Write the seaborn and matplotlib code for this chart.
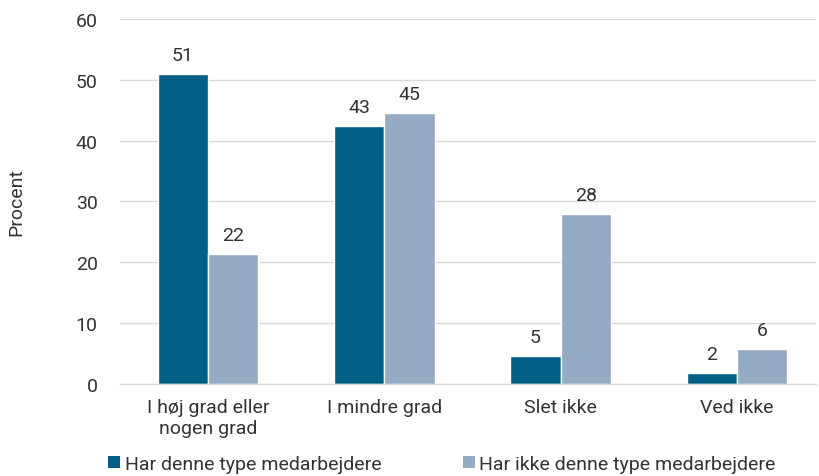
import matplotlib
matplotlib.use("Agg")

import matplotlib.pyplot as plt
import pandas as pd
import seaborn as sns
from matplotlib.patches import Patch

categories = ["I høj grad eller\nnogen grad", "I mindre grad", "Slet ikke", "Ved ikke"]
series_names = ["Har denne type medarbejdere", "Har ikke denne type medarbejdere"]
har_values = [51.0, 42.4, 4.6, 1.8]
har_ikke_values = [21.4, 44.6, 28.0, 5.8]
har_labels = ["51", "43", "5", "2"]
har_ikke_labels = ["22", "45", "28", "6"]
colors = ["#005e87", "#95aac3"]

df = pd.DataFrame({
    "kategori": categories * 2,
    "gruppe": [series_names[0]] * 4 + [series_names[1]] * 4,
    "procent": har_values + har_ikke_values,
})

sns.set_theme(style="white")
plt.rcParams["font.family"] = ["Roboto", "DejaVu Sans"]
fs = 14

fig = plt.figure(figsize=(8.19, 4.77), dpi=100)
ax = fig.add_axes([0.1465, 0.193, 0.85, 0.765])

sns.barplot(data=df, x="kategori", y="procent", hue="gruppe", palette=colors,
            width=0.57, saturation=1, gap=0, ax=ax, legend=False)

for container, labels in zip(ax.containers, [har_labels, har_ikke_labels]):
    ax.bar_label(container, labels=labels, padding=7, fontsize=fs, color="#333333")

ax.set_ylim(0, 60)
ax.set_xlim(-0.5, 3.45)
ax.set_yticks(range(0, 61, 10))
ax.yaxis.grid(True, color="#d9d9d9", linewidth=1)
ax.set_axisbelow(True)
for s in ["left", "right", "top"]:
    ax.spines[s].set_visible(False)
ax.spines["bottom"].set_color("#d9d9d9")
ax.spines["bottom"].set_linewidth(1)
ax.tick_params(axis="both", length=0, labelsize=fs, labelcolor="#333333")
ax.tick_params(axis="y", pad=16)
ax.tick_params(axis="x", pad=10)
ax.set_xlabel("")
ax.set_ylabel("Procent", fontsize=fs, color="#333333", labelpad=36)

handles = [Patch(facecolor=c, edgecolor="none") for c in colors]
fig.legend(handles, series_names, loc="lower left", bbox_to_anchor=(0.132, 0.007),
           ncol=2, frameon=False, fontsize=fs, handlelength=0.6, handleheight=0.6,
           handletextpad=0.25, columnspacing=4.2, labelcolor="#333333",
           borderpad=0, borderaxespad=0)

fig.savefig("out.png", dpi=100)
